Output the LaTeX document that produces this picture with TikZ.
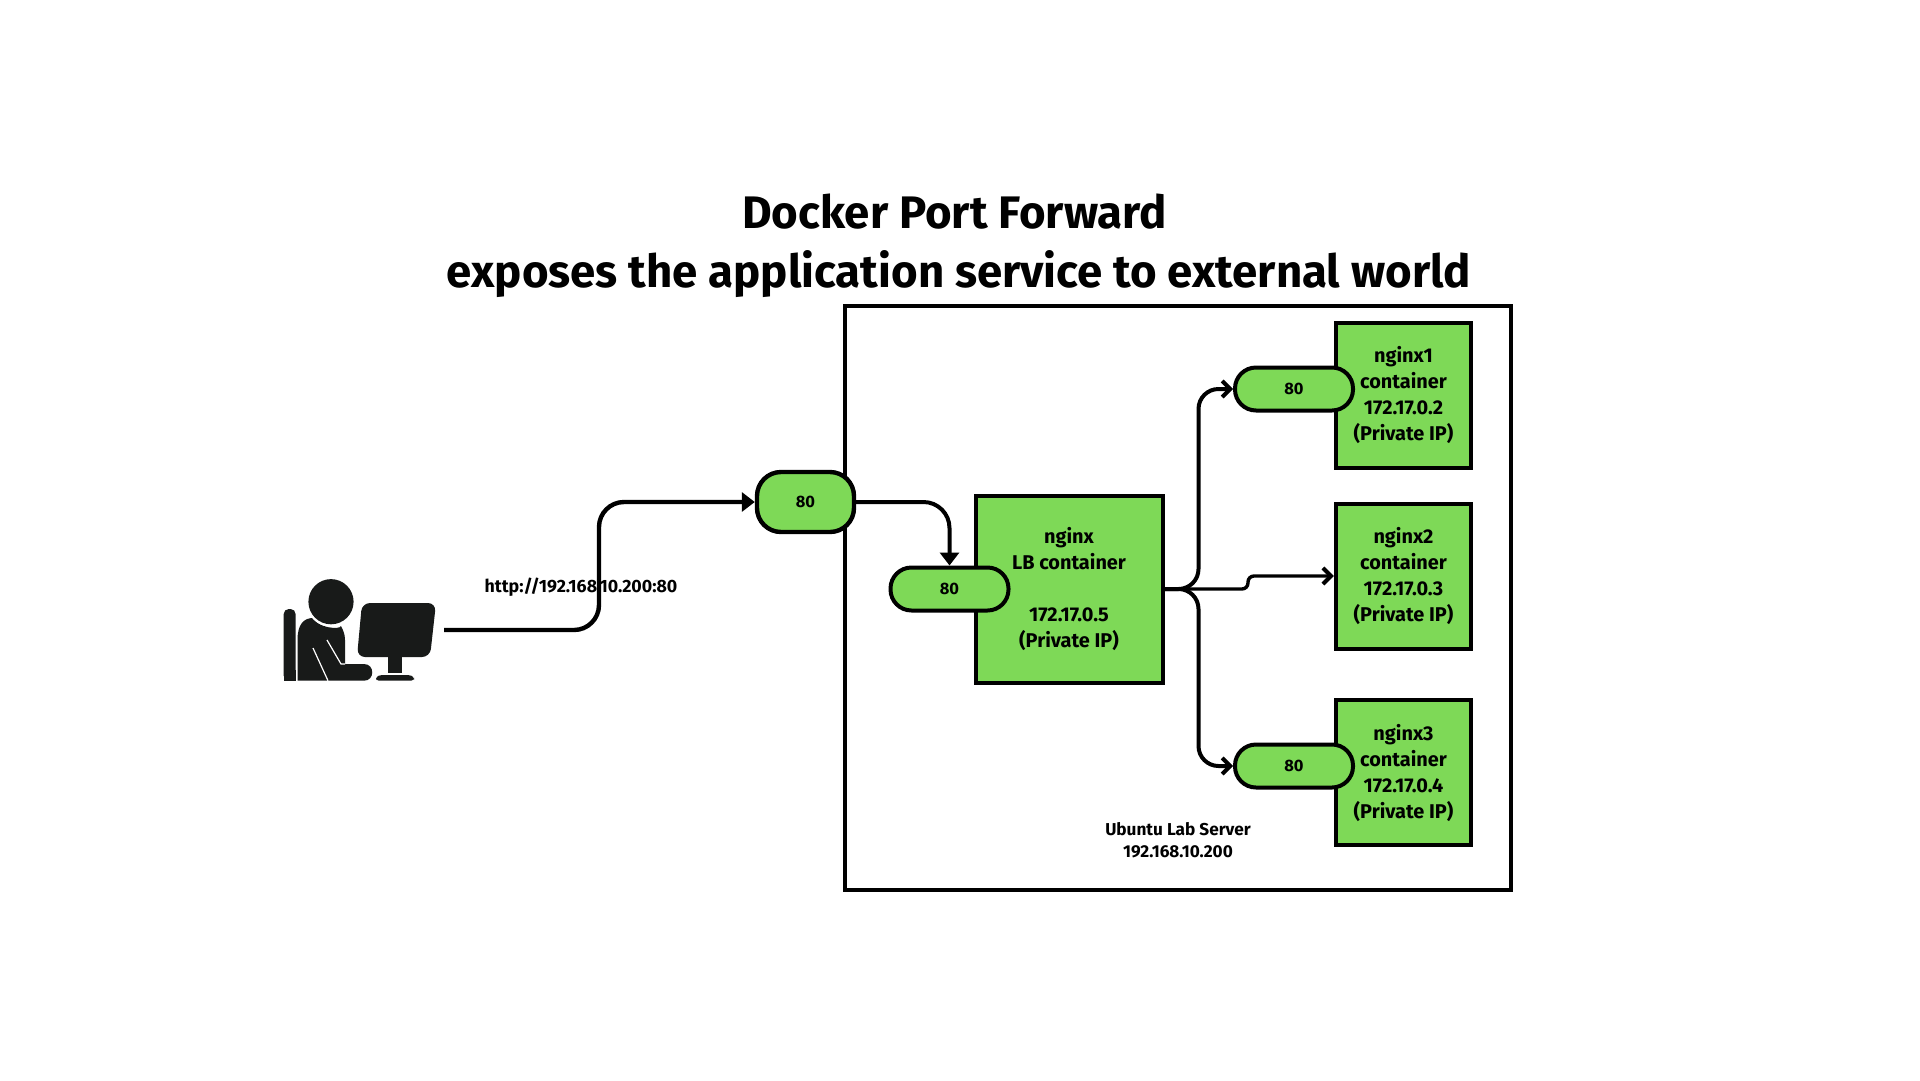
\documentclass[tikz,border=0pt]{standalone}
\usepackage{fontspec}
\setmainfont{Fira Sans}
\usetikzlibrary{arrows.meta,calc}
\definecolor{leaf}{HTML}{7ED957}
\definecolor{ink}{HTML}{181A19}
\tikzset{
  boxnode/.style={draw=black,fill=leaf,line width=4pt,inner sep=0pt,align=center,font=\fontsize{19.9}{26}\selectfont\bfseries},
  pill/.style={draw=black,fill=leaf,line width=4pt,inner sep=0pt,rounded corners=21pt,minimum width=118pt,minimum height=43pt,font=\fontsize{16.5}{18}\selectfont\bfseries},
  mainpill/.style={pill,line width=4.4pt,rounded corners=24pt,minimum width=97pt,minimum height=60pt},
  caption/.style={inner sep=0pt,align=center,font=\fontsize{17.2}{22}\selectfont\bfseries},
  heading/.style={inner sep=0pt,font=\fontsize{45.6}{50}\selectfont\bfseries},
  wire/.style={draw=black,line width=4pt},
  solidtip/.style={wire,-{Triangle[length=13pt,width=19pt]}},
  barbtip/.style={wire,-{Straight Barb[length=8pt,width=16pt,line width=4pt]}},
  figure/.style={fill=ink,draw=none},
  gap/.style={draw=white,line width=1.2pt}
}
\begin{document}
\begin{tikzpicture}[x=1pt,y=-1pt]
\useasboundingbox (0,0) rectangle (1920,1080);
\fill[white] (0,0) rectangle (1920,1080);

% title
\node[heading] (t1) at (954.5,212) {Docker Port Forward};
\node[heading] (t2) at (959,274.5) {exposes the application service to external world};

% server frame
\node[draw=black,line width=4pt,minimum width=666pt,minimum height=584pt,inner sep=0pt] (server) at (1178,597.5) {};
\node[caption] (serverlabel) at (1178,840) {Ubuntu Lab Server\\192.168.10.200};

% user icon
\fill[figure,rounded corners=5pt] (283.7,680.7) -- (283.7,609) -- (295.6,609) -- (295.6,680.7) -- cycle;
\fill[figure] (283.7,680.7) rectangle (295.6,670);
\fill[figure] (297.5,680.7) -- (297.5,640) .. controls (297.5,624) and (304,618) .. (313,618)
  .. controls (318,628) and (340,630) .. (341,626)
  .. controls (343,630) and (345,634) .. (345,640)
  -- (345,664) -- (364,664) .. controls (375,664) and (375,680.7) .. (364,680.7) -- cycle;
\fill[white] (331,601.7) circle[radius=25pt];
\fill[figure] (331,601.7) circle[radius=22.6pt];
\draw[gap] (313,648) -- (328,680.7);
\draw[gap] (327,640) -- (341,664) -- (345,664);
\fill[figure,rounded corners=8pt] (362,603) -- (436,603) -- (430,657) -- (357,657) -- cycle;
\fill[figure] (388,655) rectangle (402,672.5);
\fill[figure,rounded corners=3pt] (376,680.7) -- (376,677) -- (380,675) -- (410,675) -- (414,677) -- (414,680.7) -- cycle;

% containers
\node[boxnode,minimum width=187pt,minimum height=187pt] (lb) at (1069,589) {nginx\\LB container\\~\\172.17.0.5\\(Private IP)};
\node[boxnode,minimum width=135.5pt,minimum height=145pt] (n1) at (1403.5,395.2) {nginx1\\container\\172.17.0.2\\(Private IP)};
\node[boxnode,minimum width=135.5pt,minimum height=145pt] (n2) at (1403.5,576) {nginx2\\container\\172.17.0.3\\(Private IP)};
\node[boxnode,minimum width=135.5pt,minimum height=145pt] (n3) at (1403.5,772.5) {nginx3\\container\\172.17.0.4\\(Private IP)};

% ports
\node[mainpill] (pmain) at (805.5,502) {80};
\node[pill] (plb) at (949.5,589) {80};
\node[pill] (p1) at (1294,389) {80};
\node[pill] (p3) at (1294,766) {80};

% connectors
\coordinate (u) at (444,630);
\coordinate (bendu) at (599,566);
\coordinate (bend1) at (1198.5,480);
\coordinate (bend3) at (1198.5,680);
\coordinate (s1) at (1248,589);
\coordinate (s2) at (1248,576);
\draw[solidtip,line width=4.4pt,rounded corners=25pt] (u) -| (bendu) |- (pmain.west);
\draw[solidtip,rounded corners=26pt] (pmain.east) -| (plb.north);
\draw[barbtip,rounded corners=20pt] (lb.east) -| (bend1) |- (p1.west);
\draw[barbtip,rounded corners=20pt] (lb.east) -| (bend3) |- (p3.west);
\draw[barbtip,line width=3.4pt,rounded corners=6pt] (lb.east) -- (s1) -- (s2) -- (n2.west);

\node[caption,font=\fontsize{17.8}{22}\selectfont\bfseries] (url) at (581,587.5) {http://192.168.10.200:80};
\end{tikzpicture}
\end{document}
